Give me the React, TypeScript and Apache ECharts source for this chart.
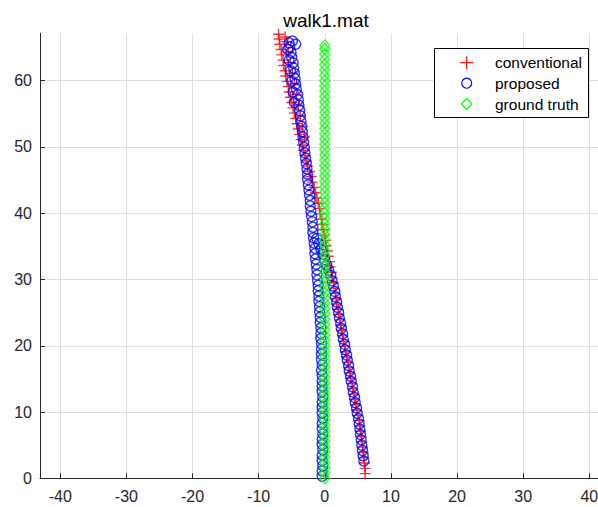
import React, { useEffect, useRef } from "react";
import * as echarts from "echarts";

const titleText = "walk1.mat";
const seriesNames = ["conventional", "proposed", "ground truth"];
const xTicks = [-40, -30, -20, -10, 0, 10, 20, 30, 40];
const yTicks = [0, 10, 20, 30, 40, 50, 60];
const xRange = [-43.07, 43.07];
const yRange = [0, 67.15];

// conventional estimate [x, y]
const conventional: number[][] = [
  [6.1, 0.7], [6.1, 1.5], [6.0, 2.3], [5.9, 3.1], [5.8, 3.9], [5.7, 4.7], [5.6, 5.5], [5.5, 6.3],
  [5.4, 7.1], [5.3, 7.9], [5.2, 8.7], [5.0, 9.5], [4.8, 10.3], [4.7, 11.1], [4.5, 11.9], [4.4, 12.7],
  [4.2, 13.5], [4.1, 14.3], [3.9, 15.1], [3.8, 15.9], [3.6, 16.7], [3.5, 17.5], [3.3, 18.3], [3.1, 19.1],
  [3.0, 19.9], [2.8, 20.7], [2.7, 21.5], [2.5, 22.3], [2.4, 23.1], [2.3, 23.9], [2.1, 24.7], [2.0, 25.5],
  [1.8, 26.3], [1.7, 27.1], [1.6, 27.9], [1.4, 28.7], [1.3, 29.5], [1.1, 30.3], [1.0, 31.1], [0.8, 31.9],
  [0.7, 32.7], [0.5, 33.5], [0.4, 34.3], [0.2, 35.1], [0.1, 35.9], [-0.1, 36.7], [-0.2, 37.5], [-0.4, 38.3],
  [-0.5, 39.1], [-0.7, 39.9], [-0.8, 40.7], [-1.0, 41.5], [-1.2, 42.3], [-1.4, 43.1], [-1.6, 43.9], [-1.9, 44.7],
  [-2.1, 45.5], [-2.3, 46.3], [-2.6, 47.1], [-2.8, 47.9], [-3.0, 48.7], [-3.2, 49.5], [-3.4, 50.3], [-3.6, 51.1],
  [-3.8, 51.9], [-4.0, 52.7], [-4.2, 53.5], [-4.4, 54.3], [-4.6, 55.1], [-4.8, 55.9], [-5.0, 56.7], [-5.2, 57.5],
  [-5.4, 58.3], [-5.5, 59.1], [-5.7, 59.9], [-5.9, 60.7], [-6.0, 61.5], [-6.2, 62.3], [-6.3, 63.1], [-6.5, 63.9],
  [-6.6, 64.7], [-6.8, 65.5], [-6.9, 66.3], [-7.0, 67.0], [-6.4, 67.2], [-6.0, 66.6],
  [-3.1, 51.5], [-3.4, 53.1], [-3.7, 54.7], [-4.0, 56.3], [-4.3, 57.9], [-4.6, 59.5], [-4.9, 61.1], [-5.2, 62.7],
  [-5.5, 64.3], [-5.8, 65.9],
];

// proposed estimate [x, y]
const proposed: number[][] = [
  [-0.4, 0.3], [-0.4, 1.1], [-0.3, 1.9], [-0.4, 2.7], [-0.4, 3.5], [-0.3, 4.3], [-0.4, 5.1], [-0.4, 5.9],
  [-0.3, 6.7], [-0.4, 7.5], [-0.4, 8.3], [-0.3, 9.1], [-0.4, 9.9], [-0.4, 10.7], [-0.4, 11.5], [-0.3, 12.3],
  [-0.4, 13.1], [-0.4, 13.9], [-0.4, 14.7], [-0.4, 15.5], [-0.5, 16.3], [-0.4, 17.1], [-0.5, 17.9], [-0.5, 18.7],
  [-0.5, 19.5], [-0.5, 20.3], [-0.6, 21.1], [-0.6, 21.9], [-0.6, 22.7], [-0.7, 23.5], [-0.7, 24.3], [-0.8, 25.1],
  [-0.8, 25.9], [-0.9, 26.7], [-0.9, 27.5], [-1.0, 28.3], [-1.0, 29.1], [-1.1, 29.9], [-1.2, 30.7], [-1.2, 31.5],
  [-1.3, 32.3], [-1.4, 33.1], [-1.5, 33.9], [-1.5, 34.7], [-1.6, 35.5], [-1.7, 36.3], [-1.8, 37.1], [-1.8, 37.9],
  [-1.9, 38.7], [-2.0, 39.5], [-2.1, 40.3], [-2.2, 41.1], [-2.2, 41.9], [-2.3, 42.7], [-2.4, 43.5], [-2.5, 44.3],
  [-2.6, 45.1], [-2.6, 45.9], [-2.7, 46.7], [-2.8, 47.5], [-2.9, 48.3], [-3.0, 49.1], [-3.1, 49.9], [-3.2, 50.7],
  [-3.3, 51.5], [-3.4, 52.3], [-3.5, 53.1], [-3.6, 53.9], [-3.7, 54.7], [-3.8, 55.5], [-3.9, 56.3], [-4.0, 57.1],
  [-4.1, 57.9], [-4.3, 58.7], [-4.4, 59.5], [-4.5, 60.3], [-4.6, 61.1], [-4.7, 61.9], [-4.8, 62.7], [-5.0, 63.5],
  [-5.1, 64.3], [-5.3, 65.1], [-5.4, 65.7],
  [-4.6, 56.7], [-4.8, 58.3], [-5.0, 59.9], [-5.2, 61.5], [-5.4, 63.1], [-5.6, 64.7], [-4.4, 65.5], [-4.9, 66.0],
  [5.9, 2.6], [5.8, 3.4], [5.7, 4.2], [5.6, 5.0], [5.5, 5.8], [5.4, 6.6], [5.3, 7.4], [5.2, 8.2],
  [5.1, 9.0], [4.9, 9.8], [4.8, 10.6], [4.6, 11.4], [4.5, 12.2], [4.3, 13.0], [4.2, 13.8], [4.0, 14.6],
  [3.9, 15.4], [3.7, 16.2], [3.6, 17.0], [3.4, 17.8], [3.3, 18.6], [3.1, 19.4], [3.0, 20.2], [2.8, 21.0],
  [2.7, 21.8], [2.5, 22.6], [2.4, 23.4], [2.2, 24.2], [2.1, 25.0], [1.9, 25.8], [1.8, 26.6], [1.6, 27.4],
  [1.5, 28.2], [1.3, 29.0], [1.1, 29.8], [0.9, 30.6], [0.6, 31.4], [0.3, 32.2], [0.0, 33.0], [-0.3, 33.8],
  [-0.6, 34.6], [-0.9, 35.4], [-1.2, 36.2],
];

// ground truth [x, y]
const groundTruth: number[][] = [
  [0, 0.0], [0, 0.8], [0, 1.6], [0, 2.4], [0, 3.2], [0, 4.0], [0, 4.8], [0, 5.6], [0, 6.4], [0, 7.2],
  [0, 8.0], [0, 8.8], [0, 9.6], [0, 10.4], [0, 11.2], [0, 12.0], [0, 12.8], [0, 13.6], [0, 14.4], [0, 15.2],
  [0, 16.0], [0, 16.8], [0, 17.6], [0, 18.4], [0, 19.2], [0, 20.0], [0, 20.8], [0, 21.6], [0, 22.4], [0, 23.2],
  [0, 24.0], [0, 24.8], [0, 25.6], [0, 26.4], [0, 27.2], [0, 28.0], [0, 28.8], [0, 29.6], [0, 30.4], [0, 31.2],
  [0, 32.0], [0, 32.8], [0, 33.6], [0, 34.4], [0, 35.2], [0, 36.0], [0, 36.8], [0, 37.6], [0, 38.4], [0, 39.2],
  [0, 40.0], [0, 40.8], [0, 41.6], [0, 42.4], [0, 43.2], [0, 44.0], [0, 44.8], [0, 45.6], [0, 46.4], [0, 47.2],
  [0, 48.0], [0, 48.8], [0, 49.6], [0, 50.4], [0, 51.2], [0, 52.0], [0, 52.8], [0, 53.6], [0, 54.4], [0, 55.2],
  [0, 56.0], [0, 56.8], [0, 57.6], [0, 58.4], [0, 59.2], [0, 60.0], [0, 60.8], [0, 61.6], [0, 62.4], [0, 63.2],
  [0, 64.0], [0, 64.8], [0, 65.3],
];

const FONT = "'Liberation Sans', Arial, Helvetica, sans-serif";
const PLUS = "path://M0,5L10,5M5,0L5,10";
const RED = "#ff0000";
const BLUE = "#0000ff";
const GREEN = "#00ff00";

export default function App() {
  const ref = useRef<HTMLDivElement>(null);
  useEffect(() => {
    if (!ref.current) return;
    const chart = echarts.init(ref.current, undefined, { renderer: "svg" });
    const axisCommon = {
      axisLine: { show: true, onZero: false, lineStyle: { color: "#262626", width: 1 } },
      axisTick: { show: true, inside: true, length: 5, lineStyle: { color: "#262626", width: 1 } },
      splitLine: { show: true, lineStyle: { color: "#dfdfdf", width: 1 } },
    };
    const lx = 466.7;
    const rows = [62.7, 83.2, 104];
    const legendGraphics: any[] = [
      {
        type: "rect",
        z: 100,
        shape: { x: 434.5, y: 48.5, width: 154, height: 69 },
        style: { fill: "#ffffff", stroke: "#000000", lineWidth: 1 },
      },
      { type: "line", z: 101, shape: { x1: lx - 6.5, y1: rows[0], x2: lx + 6.5, y2: rows[0] }, style: { stroke: RED, lineWidth: 1.2 } },
      { type: "line", z: 101, shape: { x1: lx, y1: rows[0] - 6.5, x2: lx, y2: rows[0] + 6.5 }, style: { stroke: RED, lineWidth: 1.2 } },
      { type: "circle", z: 101, shape: { cx: lx, cy: rows[1], r: 5 }, style: { fill: "none", stroke: BLUE, lineWidth: 1.2 } },
      {
        type: "polygon",
        z: 101,
        shape: { points: [[lx, rows[2] - 5.5], [lx + 5, rows[2]], [lx, rows[2] + 5.5], [lx - 5, rows[2]]] },
        style: { fill: "none", stroke: GREEN, lineWidth: 1.2 },
      },
    ];
    seriesNames.forEach((n, i) => {
      legendGraphics.push({
        type: "text",
        z: 101,
        x: 495,
        y: rows[i],
        style: { text: n, fill: "#000000", font: `15.5px ${FONT}`, verticalAlign: "middle", align: "left" },
      });
    });
    chart.setOption({
      animation: false,
      backgroundColor: "#ffffff",
      title: {
        text: titleText,
        left: 321,
        top: 6,
        textAlign: "center",
        textStyle: { fontFamily: FONT, fontSize: 19, fontWeight: "normal", color: "#000000" },
      },
      grid: { left: 40, top: 33.3, width: 569.6, height: 445 },
      xAxis: {
        type: "value",
        min: xRange[0],
        max: xRange[1],
        ...axisCommon,
        axisTick: { ...axisCommon.axisTick, customValues: xTicks },
        axisLabel: { customValues: xTicks, margin: 10, color: "#262626", fontFamily: FONT, fontSize: 16 },
      },
      yAxis: {
        type: "value",
        min: yRange[0],
        max: yRange[1],
        ...axisCommon,
        axisTick: { ...axisCommon.axisTick, customValues: yTicks },
        axisLabel: { customValues: yTicks, margin: 8, color: "#262626", fontFamily: FONT, fontSize: 16 },
      },
      graphic: legendGraphics,
      series: [
        {
          name: seriesNames[0],
          type: "scatter",
          data: conventional,
          symbol: PLUS,
          symbolSize: 11,
          itemStyle: { color: "transparent", borderColor: RED, borderWidth: 1.4 },
          emphasis: { disabled: true },
        },
        {
          name: seriesNames[1],
          type: "scatter",
          data: proposed,
          symbol: "circle",
          symbolSize: 10,
          itemStyle: { color: "transparent", borderColor: BLUE, borderWidth: 1.4 },
          emphasis: { disabled: true },
        },
        {
          name: seriesNames[2],
          type: "scatter",
          data: groundTruth,
          symbol: "diamond",
          symbolSize: [10, 11],
          itemStyle: { color: "transparent", borderColor: GREEN, borderWidth: 1.4 },
          emphasis: { disabled: true },
        },
      ],
    });
    return () => chart.dispose();
  }, []);
  return (
    <div
      ref={ref}
      style={{ position: "fixed", left: 0, top: 0, width: 620, height: 507, background: "#fff" }}
    />
  );
}
